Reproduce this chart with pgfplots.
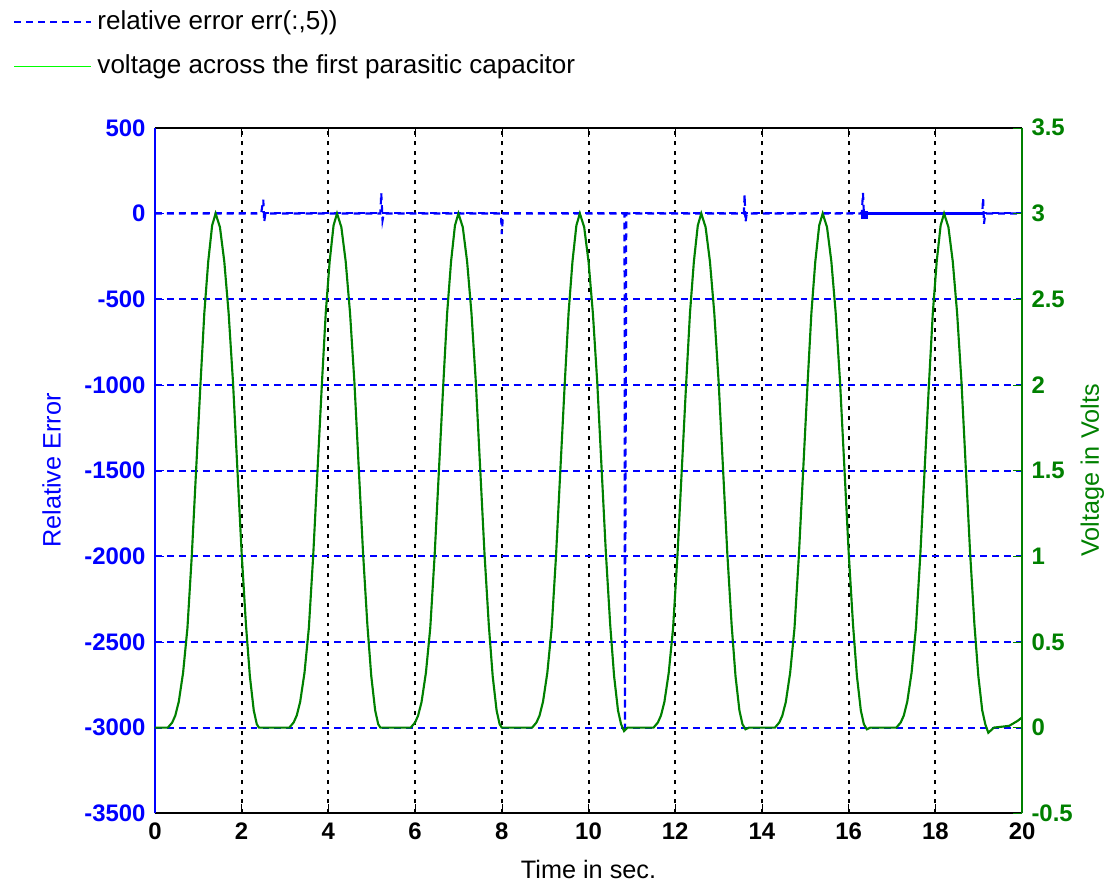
\documentclass[border=0pt]{standalone}
\usepackage{fontspec}
\setmainfont{Liberation Sans}
\usepackage{pgfplots}
\pgfplotsset{compat=1.18}
\definecolor{errblue}{RGB}{0,0,255}
\definecolor{vgreen}{RGB}{0,128,0}
\definecolor{lgreen}{RGB}{0,255,0}
\pgfplotsset{
  myax/.style={
    scale only axis, width=326.4pt, height=258pt,
    xmin=0, xmax=20, xtick={0,2,...,20},
    tick align=inside, major tick length=3.5pt,
    /pgf/number format/assume math mode=true,
    /pgf/number format/1000 sep={},
    scaled ticks=false,
    tick label style={font=\fontsize{9}{10}\selectfont\bfseries},
    label style={font=\fontsize{9.5}{11}\selectfont},
  }
}
\begin{document}
\begin{tikzpicture}
\begin{axis}[myax, name=ax,
  ymin=-3500, ymax=500, ytick={-3500,-3000,...,500},
  axis x line*=box, axis y line*=left, ytick pos=left,
  x axis line style={black, line width=0.8pt},
  y axis line style={errblue, line width=0.8pt},
  x tick style={black}, y tick style={errblue}, yticklabel style={errblue},
  xmajorgrids, ymajorgrids,
  major x grid style={black, dash pattern=on 1.5pt off 2.2pt, line width=0.75pt},
  major y grid style={errblue, dash pattern=on 2.6pt off 1.9pt, line width=0.75pt},
  xlabel={Time in sec.}, ylabel={Relative Error},
  xlabel style={at={(axis description cs:0.5,-0.082)}, anchor=center},
  ylabel style={errblue, at={(axis description cs:-0.119,0.5)}, anchor=center},
]
% relative error err(:,5)
\addplot[errblue, line width=0.8pt, dash pattern=on 2.6pt off 1.9pt] coordinates {
(0,0) (2.45,0) (2.5,80) (2.52,-50) (2.55,0) (5.2,0) (5.22,120) (5.25,-40) (5.28,0)
(7.98,0) (8.0,-120) (8.03,0) (10.83,0) (10.84,-3000) (10.87,0)
(13.58,0) (13.6,110) (13.62,-50) (13.65,0) (16.3,0) (16.33,120) (16.35,0)
(19.08,0) (19.1,90) (19.12,-60) (19.15,0) (20,0)};
\addplot[errblue, line width=0.8pt] coordinates {(16.35,0) (19.1,0)};
\addplot[errblue, only marks, mark=square*, mark size=1.2pt] coordinates {(16.36,-8)};
\end{axis}
\begin{axis}[myax,
  ymin=-0.5, ymax=3.5, ytick={-0.5,0,...,3.5},
  axis y line*=right, axis x line=none,
  y axis line style={vgreen, line width=0.8pt},
  y tick style={vgreen}, yticklabel style={vgreen},
  ylabel={Voltage in Volts},
  ylabel style={vgreen, at={(axis description cs:1.081,0.5)}, anchor=center},
  legend style={at={(axis description cs:-0.164,1.179)}, anchor=north west,
    draw=none, fill=none, font=\fontsize{9.8}{11}\selectfont, row sep=4pt,
    inner sep=0pt},
  legend cell align=left,
  legend image code/.code={\draw[#1] (0cm,0cm) -- (1.02cm,0cm);},
]
\addlegendimage{errblue, line width=0.7pt, dash pattern=on 2.6pt off 1.9pt}
\addlegendentry{relative error err(:,5))}
\addlegendimage{lgreen, line width=0.7pt}
\addlegendentry{voltage across the first parasitic capacitor}
% voltage across the first parasitic capacitor
\addplot[vgreen, line width=0.8pt, forget plot] coordinates {
(0,0) (0.30,0) (0.40,0.03) (0.47,0.07) (0.55,0.15) (0.65,0.32) (0.75,0.58) (0.85,1.00)
(0.95,1.50) (1.05,2.00) (1.14,2.42) (1.23,2.72) (1.32,2.93) (1.40,3.00) (1.50,2.92)
(1.60,2.72) (1.70,2.42) (1.80,2.02) (1.90,1.52) (2.00,1.02) (2.10,0.60) (2.19,0.30)
(2.28,0.10) (2.35,0.02) (2.40,0.00)
(3.10,0) (3.20,0.03) (3.27,0.07) (3.35,0.15) (3.45,0.32) (3.55,0.58) (3.65,1.00)
(3.75,1.50) (3.85,2.00) (3.94,2.42) (4.03,2.72) (4.12,2.93) (4.20,3.00) (4.30,2.92)
(4.40,2.72) (4.50,2.42) (4.60,2.02) (4.70,1.52) (4.80,1.02) (4.90,0.60) (4.99,0.30)
(5.08,0.10) (5.15,0.02) (5.20,0.00)
(5.90,0) (6.00,0.03) (6.07,0.07) (6.15,0.15) (6.25,0.32) (6.35,0.58) (6.45,1.00)
(6.55,1.50) (6.65,2.00) (6.74,2.42) (6.83,2.72) (6.92,2.93) (7.00,3.00) (7.10,2.92)
(7.20,2.72) (7.30,2.42) (7.40,2.02) (7.50,1.52) (7.60,1.02) (7.70,0.60) (7.79,0.30)
(7.88,0.10) (7.95,0.02) (8.00,0.00)
(8.70,0) (8.80,0.03) (8.87,0.07) (8.95,0.15) (9.05,0.32) (9.15,0.58) (9.25,1.00)
(9.35,1.50) (9.45,2.00) (9.54,2.42) (9.63,2.72) (9.72,2.93) (9.80,3.00) (9.90,2.92)
(10.00,2.72) (10.10,2.42) (10.20,2.02) (10.30,1.52) (10.40,1.02) (10.50,0.60) (10.59,0.30)
(10.68,0.10) (10.75,0.02) (10.82,-0.02) (10.90,0.00)
(11.50,0) (11.60,0.03) (11.67,0.07) (11.75,0.15) (11.85,0.32) (11.95,0.58) (12.05,1.00)
(12.15,1.50) (12.25,2.00) (12.34,2.42) (12.43,2.72) (12.52,2.93) (12.60,3.00) (12.70,2.92)
(12.80,2.72) (12.90,2.42) (13.00,2.02) (13.10,1.52) (13.20,1.02) (13.30,0.60) (13.39,0.30)
(13.48,0.10) (13.55,0.02) (13.62,-0.01) (13.70,0.00)
(14.30,0) (14.40,0.03) (14.47,0.07) (14.55,0.15) (14.65,0.32) (14.75,0.58) (14.85,1.00)
(14.95,1.50) (15.05,2.00) (15.14,2.42) (15.23,2.72) (15.32,2.93) (15.40,3.00) (15.50,2.92)
(15.60,2.72) (15.70,2.42) (15.80,2.02) (15.90,1.52) (16.00,1.02) (16.10,0.60) (16.19,0.30)
(16.28,0.10) (16.35,0.02) (16.42,-0.01) (16.50,0.00)
(17.10,0) (17.20,0.03) (17.27,0.07) (17.35,0.15) (17.45,0.32) (17.55,0.58) (17.65,1.00)
(17.75,1.50) (17.85,2.00) (17.94,2.42) (18.03,2.72) (18.12,2.93) (18.20,3.00) (18.30,2.92)
(18.40,2.72) (18.50,2.42) (18.60,2.02) (18.70,1.52) (18.80,1.02) (18.90,0.60) (18.99,0.30)
(19.08,0.10) (19.15,0.02) (19.22,-0.03) (19.35,0.00) (19.70,0.01) (19.90,0.04) (20.00,0.06)};
\end{axis}
\path ([xshift=-58.3pt,yshift=-27.1pt]ax.south west) rectangle ([xshift=33.8pt,yshift=48.1pt]ax.north east);
\end{tikzpicture}
\end{document}
